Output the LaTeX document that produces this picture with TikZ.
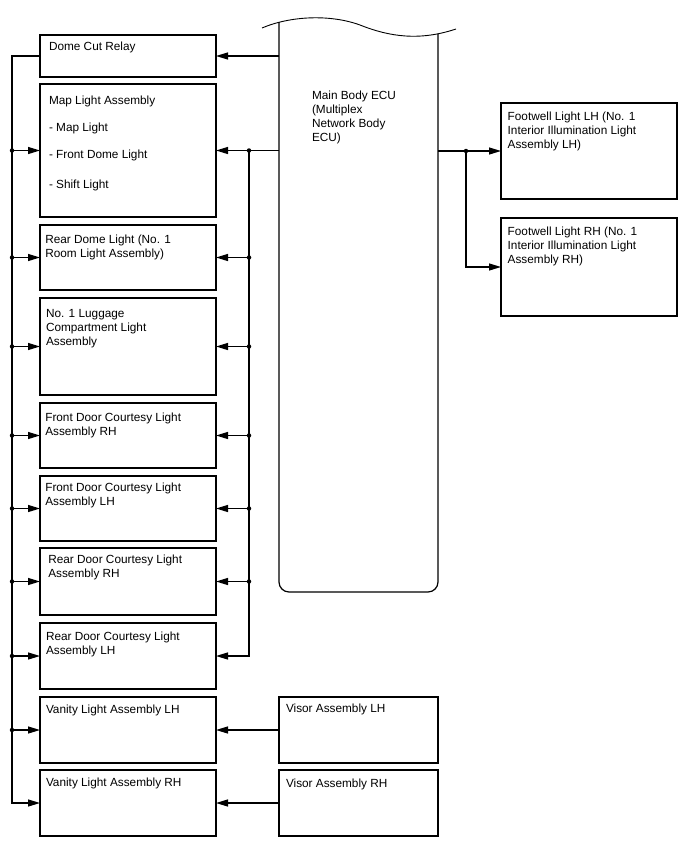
\documentclass[tikz,border=0pt]{standalone}
\usepackage{fontspec}
\setmainfont{Liberation Sans}
\usetikzlibrary{arrows.meta,calc}
\begin{document}
\begin{tikzpicture}[x=1pt,y=-1pt,
  box/.style={draw, line width=1.2pt, rectangle, anchor=north west, inner sep=0pt, outer sep=0pt},
  lbox/.style={box, minimum width=176pt},
  txt/.style={anchor=north west, inner sep=0pt, outer sep=0pt, align=left, font=\fontsize{11.8}{14}\selectfont},
  wire/.style={line width=1.2pt},
  arr/.style={wire, -{Triangle[length=12pt,width=7pt]}},
  dot/.style={circle, fill, inner sep=0pt, minimum size=4.5pt}]
\useasboundingbox (0,0) rectangle (688,852);

% ECU outline
\node[draw=none, anchor=north west, minimum width=159pt, minimum height=569pt, inner sep=0pt, outer sep=0pt] (ecu) at (279,23) {};
\draw[wire, rounded corners=10pt] (279,22) -- (279,592) -- (438,592) -- (438,34);
\draw[line width=0.9pt] (262,28) .. controls (290,16) and (330,14) .. (360,25) .. controls (390,37) and (420,41) .. (456,29);
\node[txt] (tecu) at (312,90.7) {Main Body ECU\\(Multiplex\\Network Body\\ECU)};

% left boxes
\node[lbox, minimum height=42pt] (dcr) at (40,35) {};
\node[lbox, minimum height=133pt] (map) at (40,84) {};
\node[lbox, minimum height=65pt] (rdome) at (40,225) {};
\node[lbox, minimum height=97pt] (lug) at (40,298) {};
\node[lbox, minimum height=65pt] (fdrh) at (40,403) {};
\node[lbox, minimum height=65pt] (fdlh) at (40,476) {};
\node[lbox, minimum height=67pt] (rdrh) at (40,548) {};
\node[lbox, minimum height=66pt] (rdlh) at (40,623) {};
\node[lbox, minimum height=66pt] (vlh) at (40,697) {};
\node[lbox, minimum height=66pt] (vrh) at (40,770) {};

% right boxes
\node[lbox, minimum height=96pt] (fwlh) at (501,103) {};
\node[lbox, minimum height=98pt] (fwrh) at (501,218) {};
\node[box, minimum width=159pt, minimum height=66pt] (vislh) at (279,697) {};
\node[box, minimum width=159pt, minimum height=66pt] (visrh) at (279,770) {};

% texts
\node[txt] (t1) at (49,42.4) {Dome Cut Relay};
\node[txt] (t2a) at (49,95.7) {Map Light Assembly};
\node[txt] (t2b) at (49,122.7) {- Map Light};
\node[txt] (t2c) at (49,149.7) {- Front Dome Light};
\node[txt] (t2d) at (49,179.7) {- Shift Light};
\node[txt] (t3) at (45.3,234.7) {Rear Dome Light (No. 1\\Room Light Assembly)};
\node[txt] (t4) at (46,309.4) {No. 1 Luggage\\Compartment Light\\Assembly};
\node[txt] (t5) at (45.3,412.7) {Front Door Courtesy Light\\Assembly RH};
\node[txt] (t6) at (45.3,483) {Front Door Courtesy Light\\Assembly LH};
\node[txt] (t7) at (48.3,554.7) {Rear Door Courtesy Light\\Assembly RH};
\node[txt] (t8) at (46,632.4) {Rear Door Courtesy Light\\Assembly LH};
\node[txt] (t9) at (46,705) {Vanity Light Assembly LH};
\node[txt] (t10) at (46,778) {Vanity Light Assembly RH};
\node[txt] (t11) at (286,704) {Visor Assembly LH};
\node[txt] (t12) at (286,779) {Visor Assembly RH};
\node[txt] (t13) at (507.7,112.4) {Footwell Light LH (No. 1\\Interior Illumination Light\\Assembly LH)};
\node[txt] (t14) at (507.7,227.4) {Footwell Light RH (No. 1\\Interior Illumination Light\\Assembly RH)};

% bus positions
\coordinate (lbus) at (12,0);
\coordinate (rbus) at (249,0);
\coordinate (fbus) at (466,0);

% ECU -> left boxes
\draw[arr] (ecu.west |- dcr.east) -- (dcr.east);
\draw[arr] (ecu.west |- map.east) -- (map.east);
\draw[arr] (rbus |- map.east) |- (rdlh.east);
\node[dot] (rd1) at (rbus |- map.east) {};
\foreach \b in {rdome,lug,fdrh,fdlh,rdrh}{
  \draw[arr] (rbus |- \b.east) -- (\b.east);
  \node[dot] (rd\b) at (rbus |- \b.east) {};
}

% Dome cut relay bus
\draw[arr] (dcr.west) -| (lbus |- vrh.west) -- (vrh.west);
\foreach \b in {map,rdome,lug,fdrh,fdlh,rdrh,rdlh,vlh}{
  \draw[arr] (lbus |- \b.west) -- (\b.west);
  \node[dot] (ld\b) at (lbus |- \b.west) {};
}

% visors
\draw[arr] (vislh.west) -- (vlh.east);
\draw[arr] (visrh.west) -- (vrh.east);

% footwell
\draw[arr] (ecu.east |- fwlh.west) -- (fwlh.west);
\draw[arr] (fbus |- fwlh.west) |- (fwrh.west);
\node[dot] (fd1) at (fbus |- fwlh.west) {};
\end{tikzpicture}
\end{document}
